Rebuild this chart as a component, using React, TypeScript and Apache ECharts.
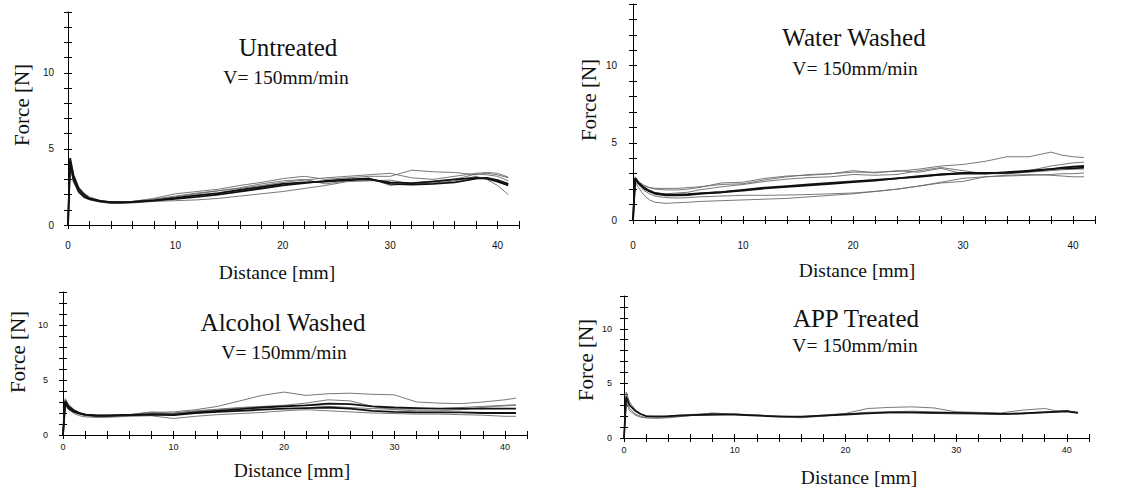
import React, { useEffect, useRef } from "react";
import * as echarts from "echarts";

// Distance samples [mm]
const distance = [0, 0.2, 0.5, 1, 1.5, 2, 3, 4, 5, 6, 8, 10, 12, 14, 16, 18, 20, 22, 24, 26, 28, 30, 32, 34, 36, 38, 39, 40, 41];

// Force [N] — Untreated
const untreatedA = [0, 4.4, 3.3, 2.4, 2.0, 1.75, 1.58, 1.5, 1.5, 1.52, 1.62, 1.78, 1.95, 2.1, 2.3, 2.5, 2.7, 2.8, 2.85, 2.95, 3.0, 2.8, 2.75, 2.85, 3.0, 3.1, 3.05, 2.85, 2.6];
const untreatedB = [0, 4.2, 3.0, 2.2, 1.85, 1.7, 1.55, 1.48, 1.48, 1.5, 1.6, 1.72, 1.85, 2.0, 2.2, 2.4, 2.6, 2.75, 2.9, 3.0, 3.05, 2.7, 2.65, 2.7, 2.8, 3.05, 3.1, 2.95, 2.7];
const untreatedC = [0, 4.0, 3.1, 2.5, 2.1, 1.85, 1.6, 1.5, 1.52, 1.55, 1.75, 2.05, 2.2, 2.35, 2.6, 2.8, 3.05, 3.2, 3.0, 3.1, 3.2, 3.2, 3.6, 3.5, 3.45, 3.3, 3.4, 3.3, 3.1];
const untreatedD = [0, 4.1, 2.9, 2.1, 1.8, 1.65, 1.5, 1.42, 1.42, 1.45, 1.55, 1.6, 1.65, 1.75, 1.9, 2.05, 2.2, 2.4, 2.6, 2.85, 2.9, 2.95, 2.7, 2.75, 2.9, 3.2, 3.0, 2.6, 2.0];
const untreatedE = [0, 3.9, 2.8, 2.2, 1.9, 1.7, 1.55, 1.46, 1.46, 1.5, 1.65, 1.85, 2.05, 2.25, 2.45, 2.7, 2.9, 3.0, 2.7, 2.9, 3.1, 2.6, 2.75, 2.9, 3.0, 3.35, 3.3, 3.2, 2.9];
const untreatedF = [0, 4.3, 3.2, 2.3, 1.95, 1.75, 1.6, 1.52, 1.5, 1.55, 1.7, 1.9, 2.1, 2.25, 2.4, 2.6, 2.8, 2.95, 3.1, 3.2, 3.3, 3.4, 3.1, 3.0, 3.2, 3.4, 3.45, 3.4, 3.15];

// Force [N] — Water Washed
const waterA = [0, 2.7, 2.4, 2.1, 1.9, 1.75, 1.65, 1.65, 1.68, 1.72, 1.8, 1.9, 2.05, 2.15, 2.25, 2.35, 2.45, 2.55, 2.7, 2.8, 2.95, 3.0, 3.0, 3.1, 3.2, 3.3, 3.35, 3.35, 3.4];
const waterB = [0, 2.7, 2.4, 2.05, 1.85, 1.7, 1.6, 1.6, 1.62, 1.7, 1.8, 1.95, 2.1, 2.2, 2.3, 2.4, 2.5, 2.6, 2.7, 2.85, 2.95, 3.05, 3.05, 3.05, 3.15, 3.3, 3.4, 3.45, 3.5];
const waterC = [0, 2.6, 2.4, 2.2, 2.1, 2.05, 2.05, 2.05, 2.1, 2.15, 2.3, 2.35, 2.6, 2.8, 2.95, 3.0, 3.1, 3.1, 3.15, 3.3, 3.5, 3.6, 3.8, 4.1, 4.1, 4.4, 4.2, 4.1, 4.05];
const waterD = [0, 2.8, 2.5, 2.25, 2.1, 2.0, 1.95, 1.95, 2.0, 2.1, 2.4, 2.45, 2.7, 2.85, 2.9, 3.0, 3.2, 3.05, 3.2, 3.1, 3.35, 3.0, 3.05, 3.0, 3.2, 3.5, 3.6, 3.7, 3.75];
const waterE = [0, 2.5, 2.1, 1.6, 1.3, 1.15, 1.08, 1.12, 1.15, 1.2, 1.25, 1.3, 1.35, 1.4, 1.5, 1.6, 1.7, 1.85, 2.0, 2.2, 2.4, 2.5, 2.8, 2.85, 2.9, 2.95, 3.0, 3.0, 3.05];
const waterF = [0, 2.6, 2.3, 1.9, 1.7, 1.55, 1.45, 1.42, 1.45, 1.5, 1.55, 1.6, 1.6, 1.62, 1.65, 1.7, 1.75, 1.85, 2.0, 2.2, 2.45, 2.7, 2.8, 2.9, 2.95, 2.9, 2.85, 2.8, 2.8];
const waterG = [0, 2.7, 2.3, 2.0, 1.85, 1.75, 1.7, 1.75, 1.8, 1.95, 2.15, 2.3, 2.5, 2.65, 2.75, 2.8, 2.95, 2.9, 2.95, 3.2, 3.4, 3.2, 3.0, 3.0, 3.1, 3.2, 3.25, 3.3, 3.3];

// Force [N] — Alcohol Washed
const alcoholA = [0, 3.1, 2.6, 2.2, 2.0, 1.85, 1.75, 1.75, 1.78, 1.8, 1.9, 1.85, 2.05, 2.2, 2.35, 2.5, 2.6, 2.7, 2.85, 2.8, 2.6, 2.5, 2.45, 2.4, 2.4, 2.4, 2.4, 2.4, 2.4];
const alcoholB = [0, 2.9, 2.4, 2.1, 1.95, 1.85, 1.78, 1.78, 1.8, 1.82, 1.85, 1.8, 2.0, 2.1, 2.2, 2.3, 2.4, 2.45, 2.5, 2.4, 2.2, 2.1, 2.05, 2.05, 2.05, 2.0, 2.0, 2.0, 2.0];
const alcoholC = [0, 3.2, 2.7, 2.3, 2.05, 1.9, 1.75, 1.7, 1.75, 1.85, 2.05, 2.1, 2.3, 2.6, 3.1, 3.6, 3.9, 3.6, 3.75, 3.8, 3.7, 3.65, 3.0, 2.9, 2.85, 3.0, 3.1, 3.2, 3.35];
const alcoholD = [0, 3.0, 2.5, 2.1, 1.9, 1.75, 1.65, 1.65, 1.7, 1.75, 1.9, 2.0, 2.2, 2.35, 2.5, 2.6, 2.7, 2.9, 3.2, 3.1, 2.6, 2.3, 2.2, 2.2, 2.3, 2.5, 2.6, 2.65, 2.7];
const alcoholE = [0, 2.8, 2.3, 1.95, 1.75, 1.65, 1.6, 1.62, 1.65, 1.7, 1.75, 1.5, 1.7, 1.85, 1.95, 2.05, 2.2, 2.3, 2.2, 2.1, 2.0, 1.95, 1.9, 1.9, 1.85, 1.8, 1.75, 1.7, 1.7];
const alcoholF = [0, 3.3, 2.8, 2.3, 2.0, 1.85, 1.75, 1.75, 1.8, 1.85, 2.1, 1.95, 2.15, 2.3, 2.45, 2.55, 2.65, 2.7, 2.6, 2.5, 2.4, 2.35, 2.35, 2.4, 2.5, 2.6, 2.65, 2.7, 2.75];

// Force [N] — APP Treated
const appA = [0, 3.8, 3.0, 2.5, 2.2, 2.0, 1.98, 2.0, 2.05, 2.1, 2.15, 2.15, 2.05, 1.95, 1.95, 2.05, 2.15, 2.25, 2.35, 2.35, 2.3, 2.3, 2.25, 2.2, 2.25, 2.35, 2.4, 2.45, 2.3];
const appB = [0, 4.2, 3.3, 2.6, 2.2, 2.0, 1.95, 2.0, 2.1, 2.15, 2.25, 2.15, 2.1, 2.0, 1.95, 2.1, 2.25, 2.7, 2.8, 2.85, 2.75, 2.4, 2.35, 2.3, 2.55, 2.7, 2.5, 2.45, 2.3];
const appC = [0, 3.5, 2.7, 2.2, 2.0, 1.85, 1.8, 1.85, 1.95, 2.05, 2.3, 2.15, 2.1, 2.0, 1.9, 2.05, 2.2, 2.35, 2.4, 2.45, 2.4, 2.35, 2.3, 2.2, 2.3, 2.4, 2.45, 2.5, 2.3];
const appD = [0, 3.2, 2.5, 2.1, 1.9, 1.85, 1.85, 1.9, 2.0, 2.05, 2.1, 2.2, 2.1, 1.95, 1.85, 2.0, 2.2, 2.3, 2.3, 2.3, 2.25, 2.2, 2.2, 2.15, 2.2, 2.35, 2.4, 2.45, 2.35];

const xTickLabels = ["0", "10", "20", "30", "40"];
const yTickLabels = ["0", "5", "10"];

const panelTitles = ["Untreated", "Water Washed", "Alcohol Washed", "APP Treated"];
const speedLabel = "V= 150mm/min";
const xName = "Distance [mm]";
const yName = "Force [N]";

// [panel][curve], thick flag per curve
const panelCurves = [
  [untreatedC, untreatedD, untreatedE, untreatedF, untreatedA, untreatedB],
  [waterC, waterD, waterE, waterF, waterG, waterA, waterB],
  [alcoholC, alcoholD, alcoholE, alcoholF, alcoholA, alcoholB],
  [appB, appC, appD, appA],
];
const thickCount = [2, 2, 2, 1];

// layout (pixels)
const layout = [
  { grid: { left: 68, top: 12, width: 451, height: 213 }, yMax: 14, label: 10, xMargin: 15, yMargin: 14,
    title: [288, 47], speed: [286, 77], yN: [22, 105], xN: [277, 272] },
  { grid: { left: 633, top: 4, width: 462, height: 216 }, yMax: 14, label: 10, xMargin: 20, yMargin: 16,
    title: [854, 37], speed: [855, 68], yN: [589, 100], xN: [857, 270] },
  { grid: { left: 63, top: 292, width: 464, height: 143 }, yMax: 13, label: 9, xMargin: 7, yMargin: 15,
    title: [283, 322], speed: [284, 352], yN: [18, 352], xN: [292, 470] },
  { grid: { left: 624, top: 296, width: 465, height: 142 }, yMax: 13, label: 9, xMargin: 7, yMargin: 12,
    title: [856, 318], speed: [855, 345], yN: [586, 360], xN: [859, 477] },
];

export default function App() {
  const ref = useRef<HTMLDivElement>(null);
  useEffect(() => {
    if (!ref.current) return;
    const chart = echarts.init(ref.current, undefined, { renderer: "svg" });
    const grids: any[] = [];
    const xAxes: any[] = [];
    const yAxes: any[] = [];
    const series: any[] = [];
    const graphics: any[] = [];
    const sans = "Liberation Sans, Arial, sans-serif";
    const serif = "Liberation Serif, Times New Roman, serif";

    layout.forEach((L, p) => {
      grids.push({ ...L.grid, containLabel: false });
      const xi = xAxes.length;
      const yi = yAxes.length;
      const baseX = {
        type: "value", gridIndex: p, min: 0, max: 42, interval: 2, position: "bottom",
        splitLine: { show: false },
      };
      const baseY = {
        type: "value", gridIndex: p, min: 0, max: L.yMax, interval: 1, position: "left",
        splitLine: { show: false },
      };
      xAxes.push({
        ...baseX,
        axisLine: { show: true, onZero: false, lineStyle: { color: "#000", width: 1 } },
        axisTick: { show: true, length: 4, lineStyle: { color: "#000" } },
        axisLabel: {
          margin: L.xMargin, fontSize: L.label, color: "#111", fontFamily: sans,
          formatter: (v: number) => (xTickLabels.includes(String(v)) ? String(v) : ""),
        },
      });
      xAxes.push({
        ...baseX,
        axisLine: { show: false, onZero: false },
        axisTick: { show: true, inside: true, length: 4, lineStyle: { color: "#000" } },
        axisLabel: { show: false },
      });
      yAxes.push({
        ...baseY,
        axisLine: { show: true, onZero: false, lineStyle: { color: "#000", width: 1 } },
        axisTick: { show: true, length: 4, lineStyle: { color: "#000" } },
        axisLabel: {
          margin: L.yMargin, fontSize: L.label, color: "#111", fontFamily: sans,
          formatter: (v: number) => (yTickLabels.includes(String(v)) ? String(v) : ""),
        },
      });
      yAxes.push({
        ...baseY,
        axisLine: { show: false, onZero: false },
        axisTick: { show: true, inside: true, length: 4, lineStyle: { color: "#000" } },
        axisLabel: { show: false },
      });

      const curves = panelCurves[p];
      curves.forEach((vals, k) => {
        const thick = k >= curves.length - thickCount[p];
        series.push({
          type: "line",
          name: `${panelTitles[p]} ${k + 1}`,
          xAxisIndex: xi,
          yAxisIndex: yi,
          data: vals.map((v, i) => [distance[i], v]),
          showSymbol: false,
          symbol: "none",
          lineStyle: { color: thick ? "#111" : "#6a6a6a", width: thick ? 1.8 : 0.9 },
          z: thick ? 3 : 2,
        });
      });

      graphics.push({
        type: "text", x: L.title[0], y: L.title[1],
        style: { text: panelTitles[p], font: `25px ${serif}`, fill: "#111", textAlign: "center", textVerticalAlign: "middle" },
      });
      graphics.push({
        type: "text", x: L.speed[0], y: L.speed[1],
        style: { text: speedLabel, font: `19.5px ${serif}`, fill: "#111", textAlign: "center", textVerticalAlign: "middle" },
      });
      graphics.push({
        type: "text", x: L.xN[0], y: L.xN[1],
        style: { text: xName, font: `19.5px ${serif}`, fill: "#111", textAlign: "center", textVerticalAlign: "middle" },
      });
      graphics.push({
        type: "text", x: L.yN[0], y: L.yN[1], rotation: Math.PI / 2,
        style: { text: yName, font: `21px ${serif}`, fill: "#111", textAlign: "center", textVerticalAlign: "middle" },
      });
    });

    chart.setOption({
      animation: false,
      backgroundColor: "#fff",
      grid: grids,
      xAxis: xAxes,
      yAxis: yAxes,
      series,
      graphic: graphics,
    });
    return () => chart.dispose();
  }, []);
  return (
    <div
      ref={ref}
      style={{ position: "absolute", left: 0, top: 0, width: 1140, height: 491, background: "#fff" }}
    />
  );
}
